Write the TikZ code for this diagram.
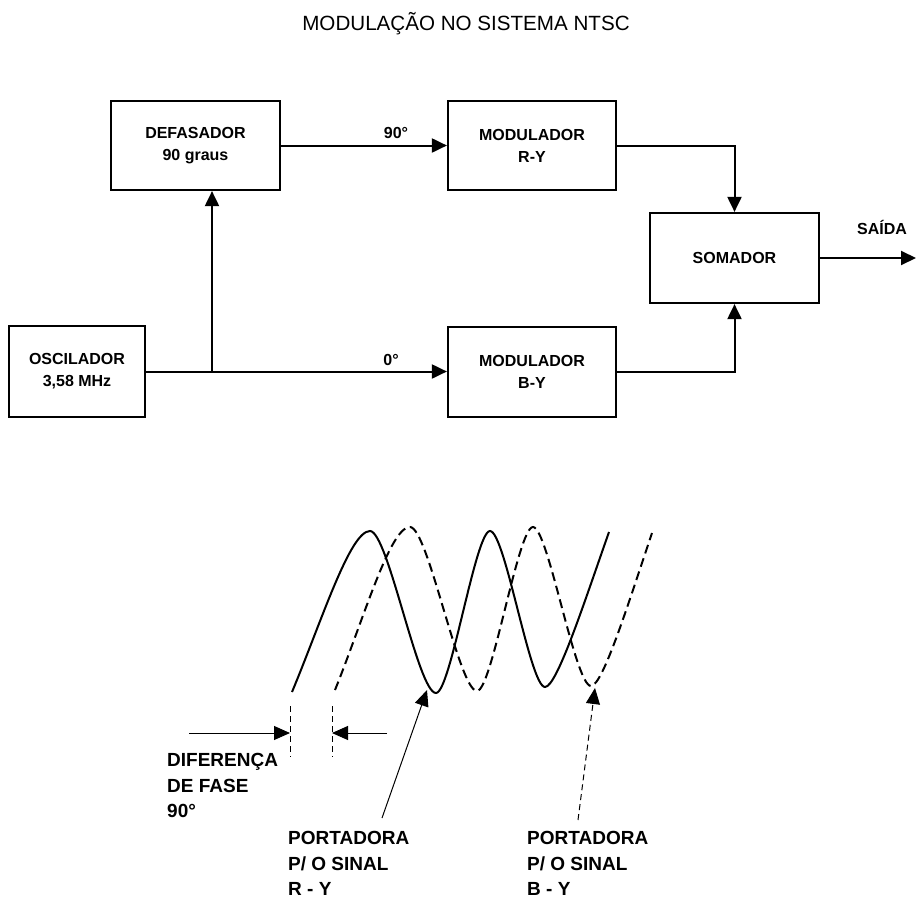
\documentclass[tikz,border=0pt]{standalone}
\usepackage{fontspec}
\setmainfont{Liberation Sans}
\usetikzlibrary{arrows.meta}
\begin{document}
\begin{tikzpicture}[x=1pt,y=-1pt,
  box/.style={draw,line width=2.2pt,rectangle,inner sep=0pt,align=center,font=\bfseries\fontsize{16}{22}\selectfont},
  conn/.style={line width=2pt,-{Triangle[length=15pt,width=14pt]}},
  lbl/.style={font=\bfseries\fontsize{16}{19}\selectfont,inner sep=0pt},
  big/.style={font=\bfseries\fontsize{19}{26}\selectfont,inner sep=0pt,anchor=base west},
  wave/.style={line width=2pt},
  dwave/.style={line width=2pt,dash pattern=on 9pt off 5pt},
  thinline/.style={line width=1pt},
  tdash/.style={line width=1pt,dash pattern=on 6pt off 4pt},
  tiparrow/.style={-{Triangle[length=16pt,width=14pt]}}
]
\useasboundingbox (0,0) rectangle (916,900);
\node[font=\fontsize{20.6}{24}\selectfont,anchor=base,inner sep=0pt] (title) at (466,30) {MODULAÇÃO NO SISTEMA NTSC};

% block diagram
\node[box,minimum width=169pt,minimum height=89pt] (def) at (195.5,145.5) {DEFASADOR\\90 graus};
\node[box,minimum width=168pt,minimum height=89pt] (mry) at (532,145.5) {MODULADOR\\R-Y};
\node[box,minimum width=169pt,minimum height=90pt] (som) at (734.5,258) {SOMADOR};
\node[box,minimum width=136pt,minimum height=91pt] (osc) at (77,371.5) {OSCILADOR\\3,58 MHz};
\node[box,minimum width=168pt,minimum height=90pt] (mby) at (532,372) {MODULADOR\\B-Y};

\draw[conn] (def) -- (mry);
\draw[conn] (osc.east) -- (osc.east -| mby.west);
\coordinate (br) at (212,371.5);
\draw[conn] (br) -- (br |- def.south);
\draw[conn] (mry.east) -| (som.north);
\draw[conn] (mby.east) -| (som.south);
\coordinate (out) at (916,258);
\draw[conn] (som.east) -- (out);

\node[lbl] (l90) at (396,133) {90°};
\node[lbl] (l0) at (391,360) {0°};
\node[lbl] (lsai) at (882,227) {SAÍDA};

% waves
\draw[wave] (292,692) .. controls (322,620) and (350,531) .. (370,531)
  .. controls (388,531) and (418,693) .. (436,693)
  .. controls (450.6,693) and (475.4,531) .. (490,531)
  .. controls (505,531) and (530,687) .. (545,687)
  .. controls (557,687) and (585,600) .. (609,532);
\draw[dwave] (335,690) .. controls (364,618) and (390,527) .. (410,527)
  .. controls (428,527) and (459,691) .. (477,691)
  .. controls (492,691) and (518,527) .. (533,527)
  .. controls (548,527) and (575,686) .. (591,686)
  .. controls (603,686) and (630,598) .. (652,533);

% phase difference marks
\coordinate (v1t) at (290,706); \coordinate (v1b) at (290,757);
\coordinate (v2t) at (332,706); \coordinate (v2b) at (332,757);
\draw[tdash] (v1t) -- (v1b);
\draw[tdash] (v2t) -- (v2b);
\coordinate (a1s) at (189,733);
\coordinate (a2s) at (387,733);
\draw[thinline,tiparrow] (a1s) -- (v1t |- a1s);
\draw[thinline,tiparrow] (a2s) -- (v2t |- a2s);

% pointers
\coordinate (p1s) at (382,818); \coordinate (p1e) at (427,690);
\draw[thinline,tiparrow] (p1s) -- (p1e);
\coordinate (p2s) at (578,820); \coordinate (p2e) at (595,688);
\draw[tdash,tiparrow] (p2s) -- (p2e);

% labels
\node[big] (d1) at (167,766) {DIFERENÇA};
\node[big] (d2) at (167,792) {DE FASE};
\node[big] (d3) at (167,817) {90°};
\node[big] (pa1) at (288,844) {PORTADORA};
\node[big] (pa2) at (288,870) {P/ O SINAL};
\node[big] (pa3) at (288,895) {R - Y};
\node[big] (pb1) at (527,844) {PORTADORA};
\node[big] (pb2) at (527,870) {P/ O SINAL};
\node[big] (pb3) at (527,895) {B - Y};
\end{tikzpicture}
\end{document}
